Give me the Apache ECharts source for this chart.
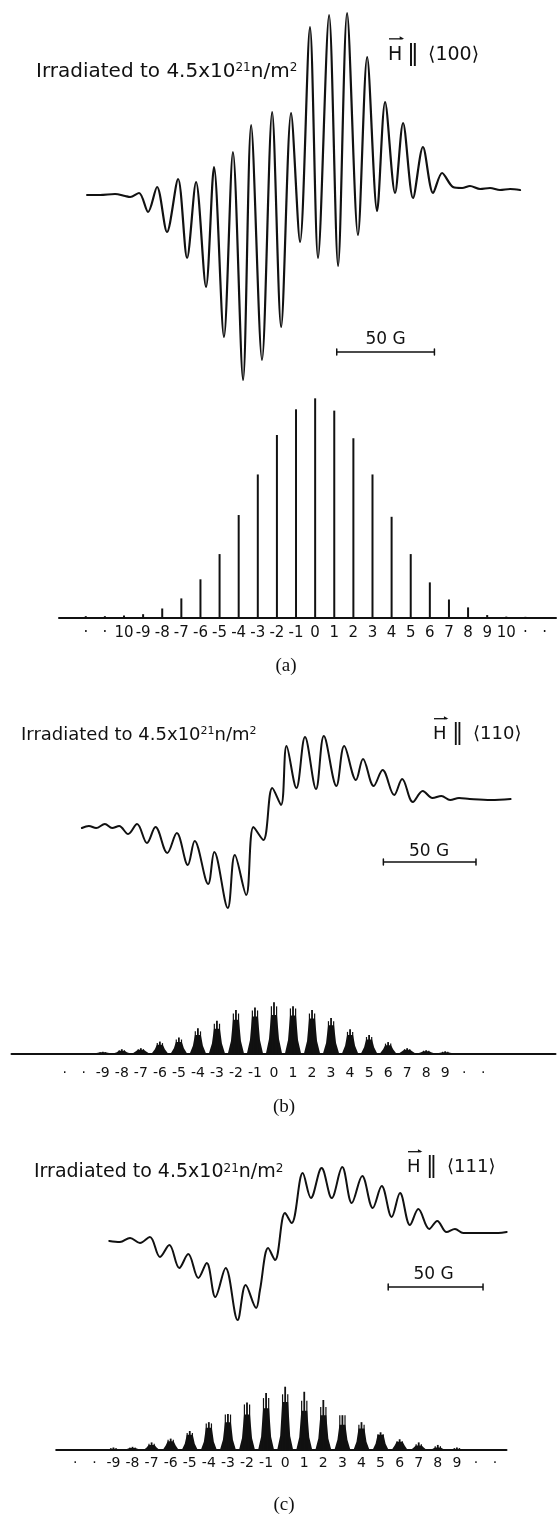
<!DOCTYPE html>
<html>
<head>
<meta charset="utf-8">
<script src="https://cdn.jsdelivr.net/npm/echarts@6/dist/echarts.min.js"></script>
<style>
html,body{margin:0;padding:0;background:#fff;}
#chart{width:558px;height:1516px;}
</style>
</head>
<body>
<div id="chart"></div>
<script>
// ---------- DATA (x in units of the hyperfine line spacing, 0 = central line) ----------
// Panel (a)  H || <100>
const specAField  = [-11.93,-11.25,-10.47,-9.94,-9.68,-9.21,-8.74,-8.27,-7.75,-7.17,-6.70,-6.23,-5.71,-5.29,-4.77,-4.30,-3.77,-3.35,-2.78,-2.25,-1.78,-1.26,-0.79,-0.27,0.15,0.73,1.20,1.67,2.24,2.72,3.24,3.66,4.18,4.60,5.12,5.64,6.17,6.64,7.21,7.69,8.10,8.63,9.15,9.67,10.20,10.72];
const specASignal = [0,0,1,-1,-2,2,-17,8,-37,16,-63,13,-92,28,-142,43,-185,70,-165,83,-132,82,-47,168,-63,180,-71,182,-40,138,-16,93,2,72,-3,48,2,22,8,7,9,6,7,5,6,5];
const sticksAPos    = [-12,-11,-10,-9,-8,-7,-6,-5,-4,-3,-2,-1,0,1,2,3,4,5,6,7,8,9,10,11,12];
const sticksAHeight = [0.7,0.7,1.0,1.6,4.2,8.8,17.5,29.0,46.8,65.3,83.3,95.0,100,94.4,81.8,65.3,46.0,29.0,16.1,8.3,4.7,1.2,0.5,0.4,0.3];
const labelsA = ['·','·','10','-9','-8','-7','-6','-5','-4','-3','-2','-1','0','1','2','3','4','5','6','7','8','9','10','·','·']; // ticks -12..12

// Panel (b)  H || <110>
const specBField  = [-10.10,-9.73,-9.35,-8.89,-8.51,-8.14,-7.67,-7.20,-6.68,-6.23,-5.61,-5.11,-4.53,-4.17,-3.46,-3.14,-2.43,-2.06,-1.46,-1.08,-0.56,-0.09,0.37,0.66,1.18,1.63,2.21,2.62,3.28,3.69,4.31,4.68,5.24,5.71,6.32,6.74,7.30,7.82,8.33,8.80,9.26,9.73,10.29,11.41,12.44];
const specBSignal = [-3,-1,-3,1,-3,-1,-9,1,-18,-2,-28,-8,-40,-16,-59,-27,-83,-30,-70,-2,-15,37,20,79,37,88,36,89,39,79,45,66,39,55,30,46,23,34,27,29,25,27,26,25,26];
const clusterBPos = [-9,-8,-7,-6,-5,-4,-3,-2,-1,0,1,2,3,4,5,6,7,8,9];
const clusterBSpike = [3,8,10,23,31,49,64,85,90,100,92,85,69,47,36,22,10,6,4];
const clusterBSide  = [2,6,8,20,27,43,58,78,84,92,88,78,63,42,32,19,8,5,3];
const clusterBCore  = [2,5,7,17,22,36,48,66,72,75,74,68,55,36,27,16,7,4,2];
const clusterBSkirt = [1,2,4,8,10,15,19,24,26,28,26,24,20,15,12,8,4,2,1];
const labelsB = ['·','·','-9','-8','-7','-6','-5','-4','-3','-2','-1','0','1','2','3','4','5','6','7','8','9','·','·']; // ticks -11..11

// Panel (c)  H || <111>
const specCField  = [-9.22,-8.66,-8.13,-7.61,-7.09,-6.56,-6.07,-5.55,-5.08,-4.55,-4.11,-3.66,-3.12,-2.49,-2.07,-1.52,-1.32,-0.89,-0.53,-0.01,0.34,0.92,1.35,1.91,2.44,2.99,3.49,4.04,4.59,5.06,5.58,6.02,6.54,6.98,7.55,7.97,8.46,8.90,9.33,10.21,11.17,11.61];
const specCSignal = [-6,-7,-3,-8,-2,-22,-10,-33,-19,-43,-28,-62,-33,-85,-50,-73,-55,-13,-25,22,12,62,37,67,37,68,32,59,27,49,18,42,10,26,6,14,3,6,2,2,2,3];
const clusterCPos = [-9,-8,-7,-6,-5,-4,-3,-2,-1,0,1,2,3,4,5,6,7,8,9];
const clusterCSpike = [4,5,12,18,30,44,57,75,90,100,92,79,55,44,28,17,12,8,4];
const clusterCSide  = [3,4,10,16,27,42,56,72,82,88,78,68,55,40,25,14,9,6,3];
const clusterCCore  = [2,3,8,14,24,35,44,56,66,76,62,55,40,34,24,13,7,4,2];
const clusterCSkirt = [1,2,4,7,10,13,16,19,21,22,20,18,16,13,10,7,4,2,1];
const labelsC = ['·','·','-9','-8','-7','-6','-5','-4','-3','-2','-1','0','1','2','3','4','5','6','7','8','9','·','·']; // ticks -11..11

// 50 G scale bars (field units of each panel, signal units)
const scaleA = [1.13, 6.24, -157];
const scaleB = [5.75, 10.62, -37];
const scaleC = [5.40, 10.37, -52];

// ---------- RENDER ----------
const INK = '#111';
const FONT = 'DejaVu Sans';
const chart = echarts.init(document.getElementById('chart'), null, {renderer:'canvas'});

const zip = (xs, ys) => xs.map((x, i) => [x, ys[i]]);
const fmt = (labels, first) => v => {
  const k = Math.round(v);
  if (Math.abs(v - k) > 1e-3) return '';
  const i = k - first;
  return (i >= 0 && i < labels.length) ? labels[i] : '';
};
const scaleBar = (s, cap) => [[s[0], s[2]+cap],[s[0], s[2]-cap],[s[0], s[2]],[s[1], s[2]],[s[1], s[2]+cap],[s[1], s[2]-cap]];

function renderStick(params, api) {
  const x = api.value(0);
  const p0 = api.coord([x, 0]);
  const p1 = api.coord([x, api.value(1)]);
  return {type:'rect', shape:{x:p0[0]-1, y:p1[1], width:2, height:Math.max(0.8, p0[1]-p1[1])}, style:{fill:INK}};
}
function renderCluster(params, api) {
  const x = api.value(0);
  const base = api.coord([x, 0]);
  const yOf = v => api.coord([x, v])[1];
  const ySp = yOf(api.value(1)), ySd = yOf(api.value(2)), yCo = yOf(api.value(3)), ySk = yOf(api.value(4));
  const cx = base[0], by = base[1];
  return {type:'group', children:[
    {type:'polygon', shape:{points:[[cx-8,by],[cx-5,ySk],[cx-3,yCo],[cx+3,yCo],[cx+5,ySk],[cx+8,by]]}, style:{fill:INK}},
    {type:'rect', shape:{x:cx-0.9, y:ySp, width:1.8, height:by-ySp}, style:{fill:INK}},
    {type:'rect', shape:{x:cx-3.2, y:ySd, width:1.2, height:by-ySd}, style:{fill:INK}},
    {type:'rect', shape:{x:cx+2.0, y:ySd, width:1.2, height:by-ySd}, style:{fill:INK}}
  ]};
}

const gridBase = {containLabel:false, outerBoundsMode:'none', show:false};
const grids = [
  Object.assign({left:59,   width:497,   top:0,    height:390}, gridBase),
  Object.assign({left:59,   width:497,   top:390,  height:227.7}, gridBase),
  Object.assign({left:11.5, width:544,   top:700,  height:250}, gridBase),
  Object.assign({left:11.5, width:544,   top:990,  height:63.3}, gridBase),
  Object.assign({left:56.2, width:450.3, top:1130, height:210}, gridBase),
  Object.assign({left:56.2, width:450.3, top:1380, height:70}, gridBase)
];
const xRanges = [[-13.4,12.6],[-13.4,12.6],[-13.8,14.8],[-13.8,14.8],[-12.0,11.6],[-12.0,11.6]];
const stickLabel = (labels, first, size, margin) => ({
  show:true, formatter: fmt(labels, first), color:INK, fontFamily:FONT, fontSize:size, margin:margin
});
const xAxes = xRanges.map((r, i) => {
  const isStick = i % 2 === 1;
  const ax = {type:'value', gridIndex:i, min:r[0], max:r[1], interval:0.2, show:true,
    axisLine:{show:isStick, onZero:true, lineStyle:{color:INK, width:2}},
    axisTick:{show:false}, splitLine:{show:false}, axisLabel:{show:false}};
  if (i === 1) ax.axisLabel = stickLabel(labelsA, -12, 15, 8);
  if (i === 3) ax.axisLabel = stickLabel(labelsB, -11, 14, 13);
  if (i === 5) ax.axisLabel = stickLabel(labelsC, -11, 14, 6);
  return ax;
});
const yRanges = [[-195,195],[0,103.8],[-125,125],[0,124.1],[-105,105],[0,110.6]];
const yAxes = yRanges.map((r, i) => ({type:'value', gridIndex:i, min:r[0], max:r[1], show:false, splitLine:{show:false}}));

const lineSeries = (idx, data, w, smooth) => ({
  type:'line', xAxisIndex:idx, yAxisIndex:idx, data:data, smooth:smooth, symbol:'none', clip:false, silent:true,
  lineStyle:{color:INK, width:w, join:'round', cap:'round'}
});

const series = [
  lineSeries(0, zip(specAField, specASignal), 2.2, 0.3),
  lineSeries(0, scaleBar(scaleA, 3), 1.5, false),
  {type:'custom', xAxisIndex:1, yAxisIndex:1, data:zip(sticksAPos, sticksAHeight), renderItem:renderStick, silent:true},
  lineSeries(2, zip(specBField, specBSignal), 2.0, 0.35),
  lineSeries(2, scaleBar(scaleB, 3), 1.5, false),
  {type:'custom', xAxisIndex:3, yAxisIndex:3, silent:true, renderItem:renderCluster,
    data:clusterBPos.map((p,i)=>[p, clusterBSpike[i], clusterBSide[i], clusterBCore[i], clusterBSkirt[i]])},
  lineSeries(4, zip(specCField, specCSignal), 2.0, 0.35),
  lineSeries(4, scaleBar(scaleC, 3), 1.5, false),
  {type:'custom', xAxisIndex:5, yAxisIndex:5, silent:true, renderItem:renderCluster,
    data:clusterCPos.map((p,i)=>[p, clusterCSpike[i], clusterCSide[i], clusterCCore[i], clusterCSkirt[i]])}
];

// ---------- annotations ----------
function title(x, y, size) {
  return {type:'text', x:x, y:y, silent:true, style:{
    text:'Irradiated to 4.5x10{s|21}n/m{s|2}', fontSize:size, fontFamily:FONT, fill:INK,
    align:'left', verticalAlign:'middle',
    rich:{s:{fontSize:Math.round(size*0.62), fontFamily:FONT, fill:INK, verticalAlign:'top', lineHeight:Math.round(size*0.62)}}
  }};
}
function txt(s, x, y, size, family, align) {
  return {type:'text', x:x, y:y, silent:true, style:{text:s, fontSize:size, fontFamily:family||FONT, fill:INK, align:align||'left', verticalAlign:'middle'}};
}
function orient(hx, y, size, dir) {
  const w = size*0.72;
  const ay = y - size*0.85;
  return [
    txt('H', hx, y, size),
    {type:'line', silent:true, shape:{x1:hx+1, y1:ay, x2:hx+w+1, y2:ay}, style:{stroke:INK, lineWidth:1.3}},
    {type:'polygon', silent:true, shape:{points:[[hx+w+2.5, ay],[hx+w-2, ay-2.5],[hx+w-2, ay+0.5]]}, style:{fill:INK}},
    txt('‖', hx+19, y, size*1.25),
    txt('⟨' + dir + '⟩', hx+40, y, size)
  ];
}

const graphic = [
  title(36, 72, 20),
  ...orient(388, 55, 19, '100'),
  txt('50 G', 385.5, 340, 17, FONT, 'center'),
  txt('(a)', 286, 666, 19, 'Liberation Serif', 'center'),

  title(21, 735, 18),
  ...orient(433, 734, 18, '110'),
  txt('50 G', 429, 852, 17, FONT, 'center'),
  txt('(b)', 284, 1107, 19, 'Liberation Serif', 'center'),

  title(34, 1172, 19),
  ...orient(407, 1167, 18, '111'),
  txt('50 G', 433.5, 1275, 17, FONT, 'center'),
  txt('(c)', 284, 1505, 19, 'Liberation Serif', 'center')
];

chart.setOption({
  animation:false,
  backgroundColor:'#ffffff',
  grid:grids, xAxis:xAxes, yAxis:yAxes, series:series, graphic:graphic
});
</script>
</body>
</html>
